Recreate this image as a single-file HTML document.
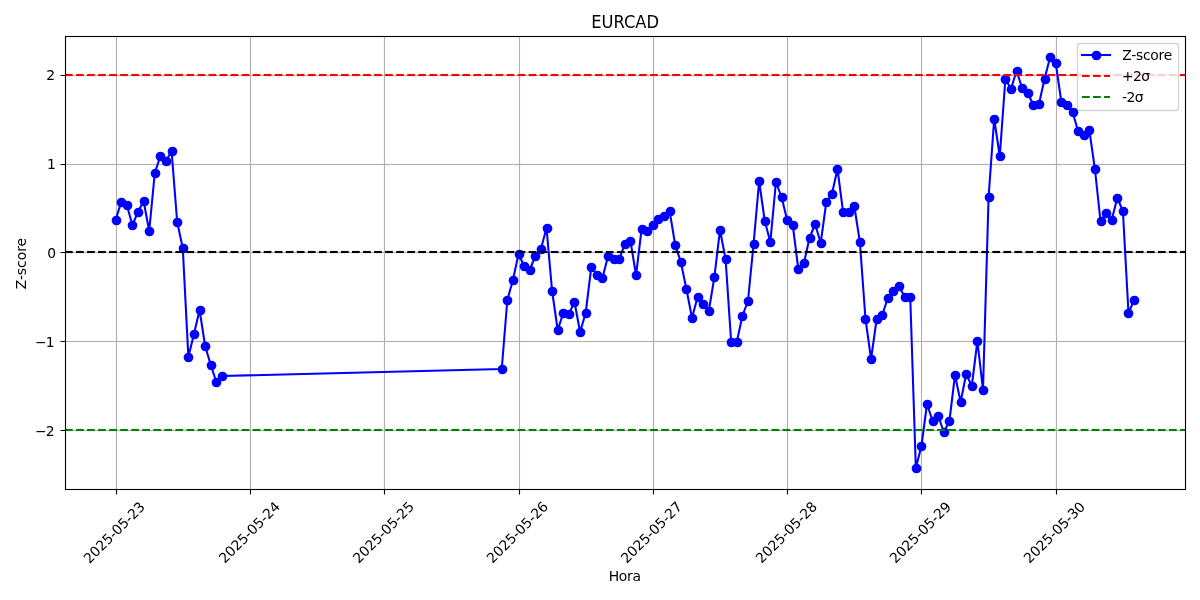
<!DOCTYPE html>
<html lang="es"><head><meta charset="utf-8"><title>EURCAD</title>
<style>html,body{margin:0;padding:0;background:#fff}body{width:1200px;height:600px;overflow:hidden}svg{display:block}</style>
</head><body>
<svg width="1200" height="600" viewBox="0 0 1200 600">
<defs><clipPath id="ax"><rect x="64.7" y="36.33" width="1120.3" height="453.01"/></clipPath></defs>
<rect width="1200" height="600" fill="#fff"/>
<path d="M115.94 36.5H117.06V489.5H115.94ZM249.94 36.5H251.06V489.5H249.94ZM383.94 36.5H385.06V489.5H383.94ZM518.94 36.5H520.06V489.5H518.94ZM652.94 36.5H654.06V489.5H652.94ZM786.94 36.5H788.06V489.5H786.94ZM920.94 36.5H922.06V489.5H920.94ZM1055.94 36.5H1057.06V489.5H1055.94ZM65.5 429.94H1185.5V431.06H65.5ZM65.5 340.94H1185.5V342.06H65.5ZM65.5 251.94H1185.5V253.06H65.5ZM65.5 163.94H1185.5V165.06H65.5ZM65.5 74.94H1185.5V76.06H65.5Z" fill="#b0b0b0"/>
<path d="M65.5 429H1185.5V430H65.5ZM65.5 431H1185.5V432H65.5ZM65.5 340H1185.5V341H65.5ZM65.5 342H1185.5V343H65.5ZM65.5 251H1185.5V252H65.5ZM65.5 253H1185.5V254H65.5ZM65.5 163H1185.5V164H65.5ZM65.5 165H1185.5V166H65.5ZM65.5 74H1185.5V75H65.5ZM65.5 76H1185.5V77H65.5Z" fill="#b0b0b0" fill-opacity="0.06"/>
<path d="M115.94 489.5H117.06V494.5H115.94ZM249.94 489.5H251.06V494.5H249.94ZM383.94 489.5H385.06V494.5H383.94ZM518.94 489.5H520.06V494.5H518.94ZM652.94 489.5H654.06V494.5H652.94ZM786.94 489.5H788.06V494.5H786.94ZM920.94 489.5H922.06V494.5H920.94ZM1055.94 489.5H1057.06V494.5H1055.94ZM60.5 429.94H65.5V431.06H60.5ZM60.5 340.94H65.5V342.06H60.5ZM60.5 251.94H65.5V253.06H60.5ZM60.5 163.94H65.5V165.06H60.5ZM60.5 74.94H65.5V76.06H60.5Z" fill="#000"/>
<g clip-path="url(#ax)">
<path d="M115.62 220L121.22 202L126.81 205L132.41 225L138.01 212L143.6 201L149.2 231L154.79 173L160.39 156L165.99 161L171.58 151L177.18 222L182.77 248L188.37 357L193.97 334L199.56 310L205.16 346L210.75 365L216.35 382L221.95 376L501.74 369L507.34 300L512.93 280L518.53 254L524.12 266L529.72 270L535.32 256L540.91 249L546.51 228L552.1 291L557.7 330L563.3 313L568.89 314L574.49 302L580.08 332L585.68 313L591.28 267L596.87 275L602.47 278L608.06 256L613.66 259L619.26 259L624.85 244L630.45 241L636.04 275L641.64 229L647.23 231L652.83 225L658.43 219L664.02 216L669.62 211L675.21 245L680.81 262L686.41 289L692 318L697.6 297L703.19 304L708.79 311L714.39 277L719.98 230L725.58 259L731.17 342L736.77 342L742.37 316L747.96 301L753.56 244L759.15 181L764.75 221L770.35 242L775.94 182L781.54 197L787.13 220L792.73 225L798.32 269L803.92 263L809.52 238L815.11 224L820.71 243L826.3 202L831.9 194L837.5 169L843.09 212L848.69 212L854.28 206L859.88 242L865.48 319L871.07 359L876.67 319L882.26 315L887.86 298L893.46 291L899.05 286L904.65 297L910.24 297L915.84 468L921.43 446L927.03 404L932.63 421L938.22 416L943.82 432L949.41 421L955.01 375L960.61 402L966.2 374L971.8 386L977.39 341L982.99 390L988.59 197L994.18 119L999.78 156L1005.37 79L1010.97 89L1016.57 71L1022.16 88L1027.76 93L1033.35 105L1038.95 104L1044.54 79L1050.14 57L1055.74 63L1061.33 102L1066.93 105L1072.52 112L1078.12 131L1083.72 135L1089.31 130L1094.91 169L1100.5 221L1106.1 213L1111.7 220L1117.29 198L1122.89 211L1128.48 313L1134.08 300" fill="none" stroke="#00f" stroke-width="2.08" stroke-linejoin="round" stroke-linecap="square"/>
<g fill="#00f"><circle cx="116.5" cy="220.5" r="4.86"/><circle cx="121.5" cy="202.5" r="4.86"/><circle cx="127.5" cy="205.5" r="4.86"/><circle cx="132.5" cy="225.5" r="4.86"/><circle cx="138.5" cy="212.5" r="4.86"/><circle cx="144.5" cy="201.5" r="4.86"/><circle cx="149.5" cy="231.5" r="4.86"/><circle cx="155.5" cy="173.5" r="4.86"/><circle cx="160.5" cy="156.5" r="4.86"/><circle cx="166.5" cy="161.5" r="4.86"/><circle cx="172.5" cy="151.5" r="4.86"/><circle cx="177.5" cy="222.5" r="4.86"/><circle cx="183.5" cy="248.5" r="4.86"/><circle cx="188.5" cy="357.5" r="4.86"/><circle cx="194.5" cy="334.5" r="4.86"/><circle cx="200.5" cy="310.5" r="4.86"/><circle cx="205.5" cy="346.5" r="4.86"/><circle cx="211.5" cy="365.5" r="4.86"/><circle cx="216.5" cy="382.5" r="4.86"/><circle cx="222.5" cy="376.5" r="4.86"/><circle cx="502.5" cy="369.5" r="4.86"/><circle cx="507.5" cy="300.5" r="4.86"/><circle cx="513.5" cy="280.5" r="4.86"/><circle cx="519.5" cy="254.5" r="4.86"/><circle cx="524.5" cy="266.5" r="4.86"/><circle cx="530.5" cy="270.5" r="4.86"/><circle cx="535.5" cy="256.5" r="4.86"/><circle cx="541.5" cy="249.5" r="4.86"/><circle cx="547.5" cy="228.5" r="4.86"/><circle cx="552.5" cy="291.5" r="4.86"/><circle cx="558.5" cy="330.5" r="4.86"/><circle cx="563.5" cy="313.5" r="4.86"/><circle cx="569.5" cy="314.5" r="4.86"/><circle cx="574.5" cy="302.5" r="4.86"/><circle cx="580.5" cy="332.5" r="4.86"/><circle cx="586.5" cy="313.5" r="4.86"/><circle cx="591.5" cy="267.5" r="4.86"/><circle cx="597.5" cy="275.5" r="4.86"/><circle cx="602.5" cy="278.5" r="4.86"/><circle cx="608.5" cy="256.5" r="4.86"/><circle cx="614.5" cy="259.5" r="4.86"/><circle cx="619.5" cy="259.5" r="4.86"/><circle cx="625.5" cy="244.5" r="4.86"/><circle cx="630.5" cy="241.5" r="4.86"/><circle cx="636.5" cy="275.5" r="4.86"/><circle cx="642.5" cy="229.5" r="4.86"/><circle cx="647.5" cy="231.5" r="4.86"/><circle cx="653.5" cy="225.5" r="4.86"/><circle cx="658.5" cy="219.5" r="4.86"/><circle cx="664.5" cy="216.5" r="4.86"/><circle cx="670.5" cy="211.5" r="4.86"/><circle cx="675.5" cy="245.5" r="4.86"/><circle cx="681.5" cy="262.5" r="4.86"/><circle cx="686.5" cy="289.5" r="4.86"/><circle cx="692.5" cy="318.5" r="4.86"/><circle cx="698.5" cy="297.5" r="4.86"/><circle cx="703.5" cy="304.5" r="4.86"/><circle cx="709.5" cy="311.5" r="4.86"/><circle cx="714.5" cy="277.5" r="4.86"/><circle cx="720.5" cy="230.5" r="4.86"/><circle cx="726.5" cy="259.5" r="4.86"/><circle cx="731.5" cy="342.5" r="4.86"/><circle cx="737.5" cy="342.5" r="4.86"/><circle cx="742.5" cy="316.5" r="4.86"/><circle cx="748.5" cy="301.5" r="4.86"/><circle cx="754.5" cy="244.5" r="4.86"/><circle cx="759.5" cy="181.5" r="4.86"/><circle cx="765.5" cy="221.5" r="4.86"/><circle cx="770.5" cy="242.5" r="4.86"/><circle cx="776.5" cy="182.5" r="4.86"/><circle cx="782.5" cy="197.5" r="4.86"/><circle cx="787.5" cy="220.5" r="4.86"/><circle cx="793.5" cy="225.5" r="4.86"/><circle cx="798.5" cy="269.5" r="4.86"/><circle cx="804.5" cy="263.5" r="4.86"/><circle cx="810.5" cy="238.5" r="4.86"/><circle cx="815.5" cy="224.5" r="4.86"/><circle cx="821.5" cy="243.5" r="4.86"/><circle cx="826.5" cy="202.5" r="4.86"/><circle cx="832.5" cy="194.5" r="4.86"/><circle cx="837.5" cy="169.5" r="4.86"/><circle cx="843.5" cy="212.5" r="4.86"/><circle cx="849.5" cy="212.5" r="4.86"/><circle cx="854.5" cy="206.5" r="4.86"/><circle cx="860.5" cy="242.5" r="4.86"/><circle cx="865.5" cy="319.5" r="4.86"/><circle cx="871.5" cy="359.5" r="4.86"/><circle cx="877.5" cy="319.5" r="4.86"/><circle cx="882.5" cy="315.5" r="4.86"/><circle cx="888.5" cy="298.5" r="4.86"/><circle cx="893.5" cy="291.5" r="4.86"/><circle cx="899.5" cy="286.5" r="4.86"/><circle cx="905.5" cy="297.5" r="4.86"/><circle cx="910.5" cy="297.5" r="4.86"/><circle cx="916.5" cy="468.5" r="4.86"/><circle cx="921.5" cy="446.5" r="4.86"/><circle cx="927.5" cy="404.5" r="4.86"/><circle cx="933.5" cy="421.5" r="4.86"/><circle cx="938.5" cy="416.5" r="4.86"/><circle cx="944.5" cy="432.5" r="4.86"/><circle cx="949.5" cy="421.5" r="4.86"/><circle cx="955.5" cy="375.5" r="4.86"/><circle cx="961.5" cy="402.5" r="4.86"/><circle cx="966.5" cy="374.5" r="4.86"/><circle cx="972.5" cy="386.5" r="4.86"/><circle cx="977.5" cy="341.5" r="4.86"/><circle cx="983.5" cy="390.5" r="4.86"/><circle cx="989.5" cy="197.5" r="4.86"/><circle cx="994.5" cy="119.5" r="4.86"/><circle cx="1000.5" cy="156.5" r="4.86"/><circle cx="1005.5" cy="79.5" r="4.86"/><circle cx="1011.5" cy="89.5" r="4.86"/><circle cx="1017.5" cy="71.5" r="4.86"/><circle cx="1022.5" cy="88.5" r="4.86"/><circle cx="1028.5" cy="93.5" r="4.86"/><circle cx="1033.5" cy="105.5" r="4.86"/><circle cx="1039.5" cy="104.5" r="4.86"/><circle cx="1045.5" cy="79.5" r="4.86"/><circle cx="1050.5" cy="57.5" r="4.86"/><circle cx="1056.5" cy="63.5" r="4.86"/><circle cx="1061.5" cy="102.5" r="4.86"/><circle cx="1067.5" cy="105.5" r="4.86"/><circle cx="1073.5" cy="112.5" r="4.86"/><circle cx="1078.5" cy="131.5" r="4.86"/><circle cx="1084.5" cy="135.5" r="4.86"/><circle cx="1089.5" cy="130.5" r="4.86"/><circle cx="1095.5" cy="169.5" r="4.86"/><circle cx="1101.5" cy="221.5" r="4.86"/><circle cx="1106.5" cy="213.5" r="4.86"/><circle cx="1112.5" cy="220.5" r="4.86"/><circle cx="1117.5" cy="198.5" r="4.86"/><circle cx="1123.5" cy="211.5" r="4.86"/><circle cx="1128.5" cy="313.5" r="4.86"/><circle cx="1134.5" cy="300.5" r="4.86"/></g>
<path d="M65 252H1185" fill="none" stroke="#000" stroke-width="2.08" stroke-dasharray="7.71 3.33"/>
<path d="M65 250.5H1185M65 253.5H1185" fill="none" stroke="#000" stroke-opacity="0.05" stroke-width="1" stroke-dasharray="7.71 3.33"/>
<path d="M65 75H1185" fill="none" stroke="#f00" stroke-width="2.08" stroke-dasharray="7.71 3.33"/>
<path d="M65 73.5H1185M65 76.5H1185" fill="none" stroke="#f00" stroke-opacity="0.05" stroke-width="1" stroke-dasharray="7.71 3.33"/>
<path d="M65 430H1185" fill="none" stroke="#008000" stroke-width="2.08" stroke-dasharray="7.71 3.33"/>
<path d="M65 428.5H1185M65 431.5H1185" fill="none" stroke="#008000" stroke-opacity="0.05" stroke-width="1" stroke-dasharray="7.71 3.33"/>
</g>
<path d="M64.94 35.94H66.06V490.06H64.94ZM1184.94 35.94H1186.06V490.06H1184.94ZM64.94 488.94H1186.06V490.06H64.94ZM64.94 35.94H1186.06V37.06H64.94Z" fill="#000"/>
<path d="M66 488H1185V489H66ZM65 490H1186V491H65ZM65 35H1186V36H65ZM66 37H1185V38H66Z" fill="#000" fill-opacity="0.055"/>
<rect x="1077.5" y="43.5" width="101" height="67" rx="2.78" fill="#fff" fill-opacity="0.8" stroke="#ccc" stroke-opacity="0.8" stroke-width="1.39"/>
<path d="M1082 55H1110" stroke="#00f" stroke-width="2.08" stroke-linecap="square"/>
<circle cx="1096.5" cy="55.5" r="4.86" fill="#00f"/>
<path d="M1082 76H1110" stroke="#f00" stroke-width="2.08" stroke-dasharray="7.71 3.33"/>
<path d="M1082 97H1110" stroke="#008000" stroke-width="2.08" stroke-dasharray="7.71 3.33"/>
<g font-family="'DejaVu Sans', 'Liberation Sans', sans-serif" font-size="13.89" fill="#000">
<text x="89.46" y="564.13" transform="rotate(-45 89.46 564.13)" textLength="79.75">2025-05-23</text>
<text x="224.66" y="563.93" transform="rotate(-45 224.66 563.93)" textLength="79.75">2025-05-24</text>
<text x="358.66" y="563.93" transform="rotate(-45 358.66 563.93)" textLength="79.75">2025-05-25</text>
<text x="492.62" y="563.92" transform="rotate(-45 492.62 563.92)" textLength="79.88">2025-05-26</text>
<text x="626.66" y="563.93" transform="rotate(-45 626.66 563.93)" textLength="79.75">2025-05-27</text>
<text x="761.62" y="564.02" transform="rotate(-45 761.62 564.02)" textLength="79.88">2025-05-28</text>
<text x="895.52" y="564.12" transform="rotate(-45 895.52 564.12)" textLength="79.88">2025-05-29</text>
<text x="1029.57" y="564.03" transform="rotate(-45 1029.57 564.03)" textLength="79.75">2025-05-30</text>
<text x="35.1" y="436.19">−<tspan dx="-1">2</tspan></text>
<text x="34.93" y="346.67">−<tspan dx="-0.75">1</tspan></text>
<text x="47.13" y="257.95" textLength="8.75">0</text>
<text x="47" y="169.23" textLength="8.88">1</text>
<text x="46.13" y="79.71" textLength="8.75">2</text>
<text x="591.19" y="28" font-size="17.7" lengthAdjust="spacingAndGlyphs" textLength="67.92">EURCAD</text>
<text x="608.73" y="581" textLength="32.25">Hora</text>
<text x="26.02" y="289.33" transform="rotate(-90 26.02 289.33)" textLength="51.38">Z-score</text>
<text x="1122.23" y="59.83" textLength="50.08">Z-score</text>
<text x="1122.03" y="80.78" textLength="28.12">+2σ</text>
<text x="1121.93" y="101.72" textLength="21.57">-2σ</text>
</g>
</svg>
</body></html>
